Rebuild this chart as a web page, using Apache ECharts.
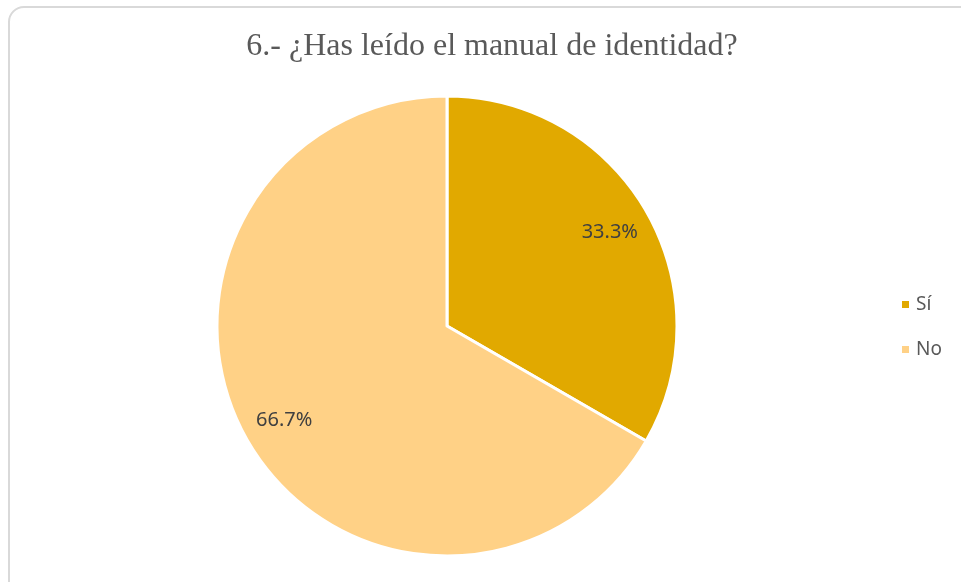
<!DOCTYPE html>
<html>
<head>
<meta charset="utf-8">
<script src="https://cdn.jsdelivr.net/npm/echarts@6/dist/echarts.min.js"></script>
<style>
  html, body { margin: 0; padding: 0; background: #fff; overflow: hidden; }
  #frame { position: absolute; left: 8px; top: 6px; width: 980px; height: 600px;
           border: 2px solid #d9d9d9; border-radius: 16px; box-sizing: border-box; }
  #chart { position: absolute; left: 0; top: 0; width: 961px; height: 582px; }
</style>
</head>
<body>
<div id="frame"></div>
<div id="chart"></div>
<script>
var categories = ['Sí', 'No'];
var values = [1, 2];
var colors = ['#E1A900', '#FFD186'];

var chartDom = document.getElementById('chart');
var myChart = echarts.init(chartDom);

var pieData = categories.map(function (name, i) {
    return { name: name, value: values[i], itemStyle: { color: colors[i] } };
});

var option = {
    animation: false,
    title: {
        text: '6.- ¿Has leído el manual de identidad?',
        left: 487,
        textAlign: 'center',
        top: 26,
        textStyle: {
            fontFamily: 'Liberation Serif',
            fontSize: 32,
            fontWeight: 'normal',
            color: '#595959'
        }
    },
    legend: {
        orient: 'vertical',
        left: 900,
        top: 295,
        padding: 0,
        itemWidth: 9,
        itemHeight: 9,
        itemGap: 26,
        icon: 'rect',
        data: categories,
        textStyle: { fontFamily: 'Noto Sans', fontSize: 19, color: '#595959', padding: [0, 0, 0, 1] }
    },
    series: [
        {
            type: 'pie',
            center: [447, 326],
            radius: [0, 230],
            startAngle: 90,
            clockwise: true,
            percentPrecision: 1,
            label: { show: false },
            labelLine: { show: false },
            itemStyle: { borderColor: '#fff', borderWidth: 3 },
            emphasis: { disabled: true },
            data: pieData
        },
        {
            // transparent ring used only to place the percentage labels
            type: 'pie',
            center: [447, 326],
            radius: [140, 230],
            startAngle: 90,
            clockwise: true,
            silent: true,
            percentPrecision: 1,
            itemStyle: { color: 'rgba(0,0,0,0)' },
            label: {
                show: true,
                position: 'inside',
                formatter: '{d}%',
                fontFamily: 'Noto Sans',
                fontSize: 20,
                color: '#404040'
            },
            labelLine: { show: false },
            emphasis: { disabled: true },
            data: categories.map(function (name, i) { return { name: name, value: values[i] }; })
        }
    ]
};

myChart.setOption(option);

window.addEventListener('resize', function () {
    myChart.resize();
});
</script>
</body>
</html>
